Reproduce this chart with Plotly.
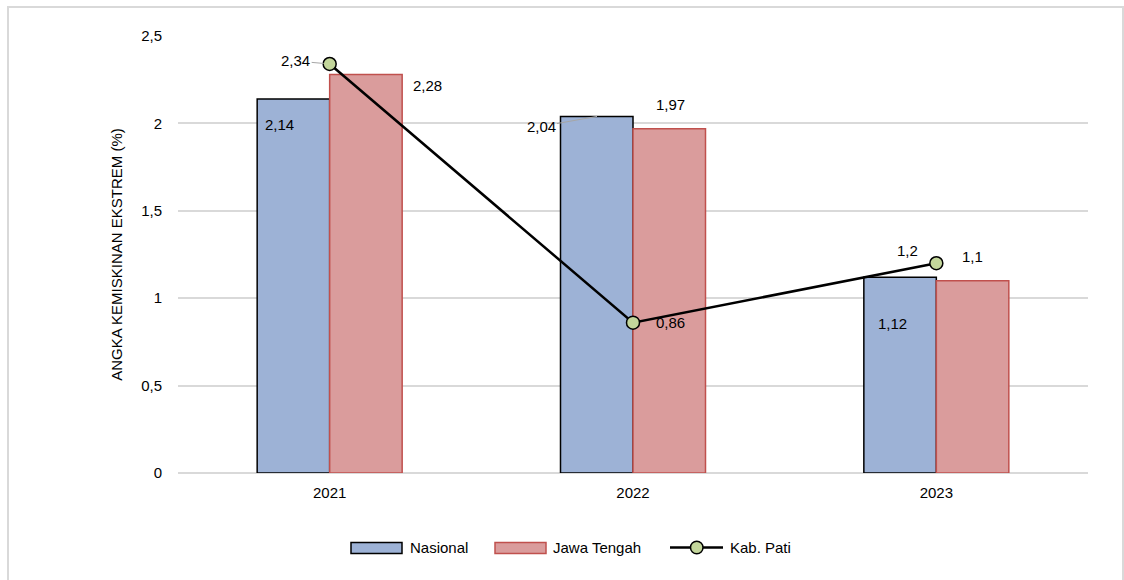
import plotly.graph_objects as go

years = ["2021", "2022", "2023"]
nasional = [2.14, 2.04, 1.12]
jawa_tengah = [2.28, 1.97, 1.10]
kab_pati = [2.34, 0.86, 1.20]
series_names = ["Nasional", "Jawa Tengah", "Kab. Pati"]
y_ticks = [0, 0.5, 1, 1.5, 2, 2.5]
y_title = "ANGKA KEMISKINAN EKSTREM (%)"

def fmt(v):
    return ("%g" % v).replace(".", ",")

FONT = "Liberation Sans, Arial, sans-serif"
FS = 15
NAS_FILL, NAS_LINE = "#9DB2D6", "#000000"
JT_FILL, JT_LINE = "#DA9C9C", "#C0504D"
PATI_FILL = "#C3D69B"

# plot-area geometry in pixels (used only to place the hand-made legend)
L, R, T, B, W, H = 178, 36, 36, 107, 1124, 580
PW, PH = W - L - R, H - T - B
def px(xp):
    return (xp - L) / PW
def py(yp):
    return (H - B - yp) / PH

fig = go.Figure()
fig.add_trace(go.Bar(
    x=years, y=nasional, name=series_names[0],
    marker=dict(color=NAS_FILL, line=dict(color=NAS_LINE, width=1.5)),
))
fig.add_trace(go.Bar(
    x=years, y=jawa_tengah, name=series_names[1],
    marker=dict(color=JT_FILL, line=dict(color=JT_LINE, width=1.5)),
))
fig.add_trace(go.Scatter(
    x=years, y=kab_pati, name=series_names[2], mode="lines+markers",
    line=dict(color="#000000", width=2.5),
    marker=dict(symbol="circle", size=13, color=PATI_FILL,
                line=dict(color="#000000", width=1.5)),
))

# label offsets (pixels) relative to category centre / value
nas_off = [(-50, -26), None, (-44, -46)]
jt_off = [(98, -11), (37, 24), (36, 24)]
pati_off = [None, (37, 0), (-29, 13)]

annotations = []
for i, yr in enumerate(years):
    if nas_off[i] is None:
        annotations.append(dict(x=i, y=nasional[i], text=fmt(nasional[i]), xshift=-36,
                                showarrow=True, arrowhead=0, arrowwidth=1, arrowcolor="#A6A6A6",
                                ax=-56, ay=10, standoff=0))
    else:
        dx, dy = nas_off[i]
        annotations.append(dict(x=i, y=nasional[i], text=fmt(nasional[i]),
                                xshift=dx, yshift=dy, showarrow=False))
    dx, dy = jt_off[i]
    annotations.append(dict(x=i, y=jawa_tengah[i], text=fmt(jawa_tengah[i]),
                            xshift=dx, yshift=dy, showarrow=False))
    if pati_off[i] is None:
        annotations.append(dict(x=i, y=kab_pati[i], text=fmt(kab_pati[i]),
                                showarrow=True, arrowhead=0, arrowwidth=1, arrowcolor="#A6A6A6",
                                ax=-34, ay=-3, standoff=6))
    else:
        dx, dy = pati_off[i]
        annotations.append(dict(x=i, y=kab_pati[i], text=fmt(kab_pati[i]),
                                xshift=dx, yshift=dy, showarrow=False))
for a in annotations:
    a["font"] = dict(family=FONT, size=FS, color="#000000")
    a["xref"] = "x"
    a["yref"] = "y"

# hand-made legend (wide swatches like the original)
leg_y = 547.5
leg_text_x = [408, 551, 728]
shapes = [dict(type="rect", xref="paper", yref="paper", x0=px(8), x1=px(1123),
               y0=py(592), y1=py(7), line=dict(color="#D9D9D9", width=2), layer="below")]
shapes.append(dict(type="rect", xref="paper", yref="paper", x0=px(351), x1=px(402),
                   y0=py(553.5), y1=py(542.5), fillcolor=NAS_FILL,
                   line=dict(color=NAS_LINE, width=1.5)))
shapes.append(dict(type="rect", xref="paper", yref="paper", x0=px(495), x1=px(546),
                   y0=py(553.5), y1=py(542.5), fillcolor=JT_FILL,
                   line=dict(color=JT_LINE, width=1.5)))
shapes.append(dict(type="line", xref="paper", yref="paper", x0=px(670), x1=px(723),
                   y0=py(leg_y), y1=py(leg_y), line=dict(color="#000000", width=2.5)))
shapes.append(dict(type="circle", xref="paper", yref="paper", x0=px(690.5), x1=px(703),
                   y0=py(leg_y + 6.25), y1=py(leg_y - 6.25), fillcolor=PATI_FILL,
                   line=dict(color="#000000", width=1.5)))
for name, tx in zip(series_names, leg_text_x):
    annotations.append(dict(xref="paper", yref="paper", x=px(tx), y=py(leg_y - 0.5),
                            xanchor="left", yanchor="middle", text=name, showarrow=False,
                            font=dict(family=FONT, size=FS, color="#000000")))

fig.update_layout(
    width=W, height=H,
    margin=dict(l=L, r=R, t=T, b=B),
    paper_bgcolor="white", plot_bgcolor="white",
    font=dict(family=FONT, size=FS, color="#000000"),
    barmode="group", bargap=0.522, bargroupgap=0,
    showlegend=False,
    annotations=annotations,
    shapes=shapes,
    xaxis=dict(type="category", categoryorder="array", categoryarray=years,
               range=[-0.5, len(years) - 0.5], showgrid=False, showline=False,
               ticks="outside", ticklen=6, tickcolor="rgba(0,0,0,0)",
               tickfont=dict(size=FS)),
    yaxis=dict(range=[0, 2.5], tickmode="array", tickvals=y_ticks,
               ticktext=[fmt(v) for v in y_ticks],
               showgrid=True, gridcolor="#D9D9D9", gridwidth=1.5,
               zeroline=True, zerolinecolor="#D9D9D9", zerolinewidth=1.5,
               showline=False, ticks="outside", ticklen=12, tickcolor="rgba(0,0,0,0)",
               tickfont=dict(size=FS),
               title=dict(text=y_title, font=dict(size=FS), standoff=14)),
)
fig.write_html("out.html")
